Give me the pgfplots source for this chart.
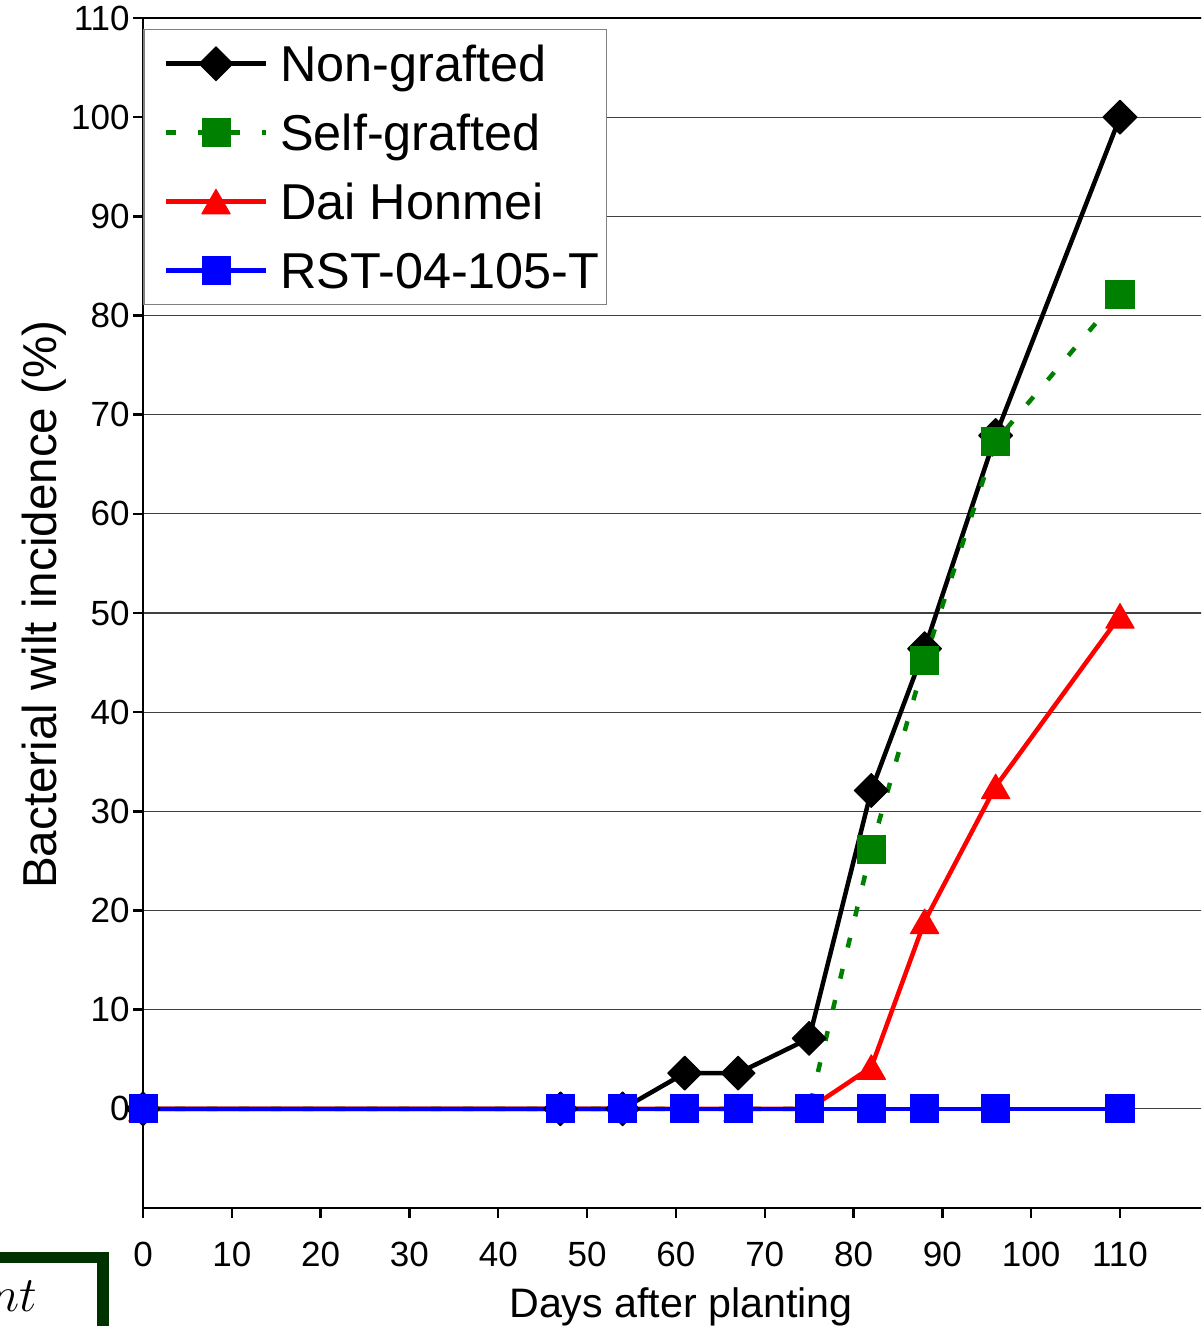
\documentclass[border=0pt]{standalone}
\usepackage{fontspec}
\setmainfont{Liberation Sans}
\usepackage{pgfplots}
\pgfplotsset{compat=1.18}
\definecolor{sgreen}{RGB}{0,128,0}
\definecolor{boxgreen}{RGB}{0,50,0}
\begin{document}
\begin{tikzpicture}
\path[use as bounding box] (0,0) rectangle (600.5pt,663pt);
\clip (0,0) rectangle (600.5pt,663pt);
\begin{axis}[
  at={(71.5pt,59pt)}, anchor=south west,
  scale only axis, width=532.9pt, height=595pt,
  xmin=0, xmax=120, ymin=-10, ymax=110,
  xtick={0,10,...,110}, ytick={0,10,...,110},
  tick pos=left, tick align=outside, major tick length=5pt,
  every tick/.style={black, line width=1.2pt},
  axis line style={line width=1.4pt},
  ymajorgrids, grid style={black!75, line width=0.6pt},
  clip=false,
  /pgf/number format/assume math mode=true,
  ticklabel style={font=\fontsize{17.5}{20}\selectfont},
  yticklabel style={inner xsep=1.5pt},
  xticklabel style={inner ysep=0pt, yshift=-12pt},
  xlabel={Days after planting},
  ylabel={Bacterial wilt incidence (\%)},
  xlabel style={font=\fontsize{20.6}{24}\selectfont, at={(axis description cs:0.5048,-0.0924)}, anchor=base},
  ylabel style={font=\fontsize{23.8}{28}\selectfont, at={(axis description cs:-0.0807,0.5071)}, anchor=base},
  legend style={at={(axis description cs:0,0.9908)}, anchor=north west, draw=black!50, line width=0.75pt, fill=white,
    inner xsep=3.5pt, inner ysep=6pt, row sep=12.5pt, column sep=6pt,
    font=\fontsize{25.2}{28}\selectfont, nodes={inner sep=0pt, text height=20pt, text depth=2pt}},
  legend cell align=left,
  legend image code/.code={
    \path (0pt,0pt);
    \draw[mark repeat=2,mark phase=2] plot coordinates {(6.5pt,0pt) (31.5pt,0pt) (56.5pt,0pt)};
  },
]
\addplot[black, line width=2.25pt, line join=round, mark=square*, mark size=6pt,
  mark options={rotate=45, solid, fill=black, line width=0.5pt}] coordinates {
  (0,0) (47,0) (54,0) (61,3.6) (67,3.6) (75,7.1) (82,32.1) (88,46.4) (96,67.9) (110,100)};
\addlegendentry{Non-grafted}
\addplot[sgreen, line width=2.25pt, dash pattern=on 5pt off 11pt, mark=square*, mark size=7pt,
  mark options={solid, fill=sgreen, line width=0.5pt}] coordinates {
  (0,0) (47,0) (54,0) (61,0) (67,0) (75,0) (82,26.2) (88,45.2) (96,67.3) (110,82.1)};
\addlegendentry{Self-grafted}
\addplot[red, line width=2.25pt, line join=round, mark=triangle*, mark size=8.2pt,
  mark options={solid, fill=red, line width=0.5pt, yshift=-2pt}] coordinates {
  (0,0) (47,0) (54,0) (61,0) (67,0) (75,0) (82,4.2) (88,18.9) (96,32.5) (110,49.7)};
\addlegendentry{Dai Honmei}
\addplot[blue, line width=2.25pt, line join=round, mark=square*, mark size=7pt,
  mark options={solid, fill=blue, line width=0.5pt}] coordinates {
  (0,0) (47,0) (54,0) (61,0) (67,0) (75,0) (82,0) (88,0) (96,0) (110,0)};
\addlegendentry{RST-04-105-T}
\end{axis}
\fill[boxgreen] (0pt,31.5pt) rectangle (54.5pt,37pt);
\fill[boxgreen] (48.5pt,0pt) rectangle (54.5pt,37pt);
\node[anchor=base east, inner sep=0pt] at (19pt,7pt) {\fontsize{29}{30}\selectfont$nt$};
\end{tikzpicture}
\end{document}
